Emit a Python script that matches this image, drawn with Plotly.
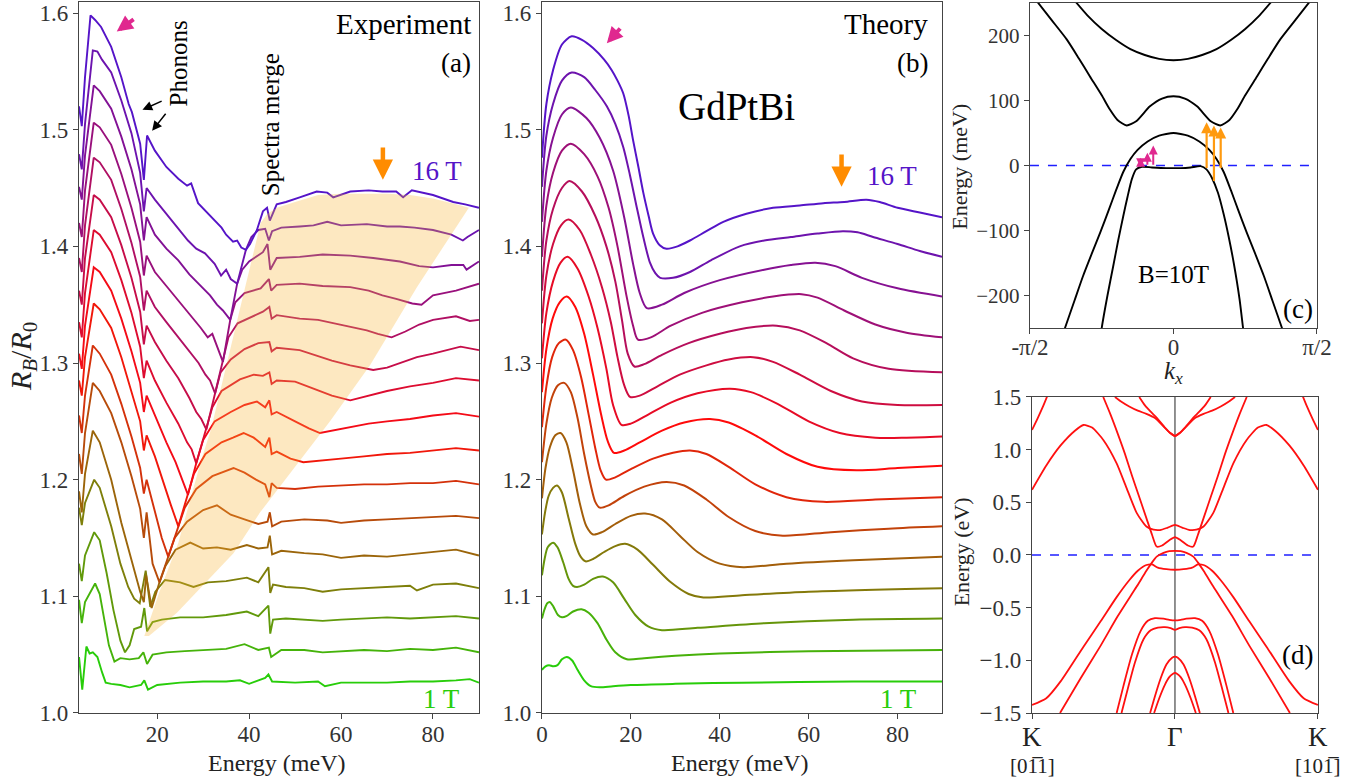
import plotly.graph_objects as go

FONT = "Liberation Serif, Times New Roman, serif"

# ---------------- Panel (a): experiment, R_B/R_0 vs energy (meV) ----------------
exp_16T_x = [3.0, 3.6, 4.3, 5.5, 6.5, 7.8, 10.0, 12.2, 13.8, 14.5, 16.3, 17.1, 17.8, 19.5, 22.0, 24.6, 26.5, 27.4, 28.9, 31.7, 34.0, 35.0, 36.5, 37.4, 38.3, 39.3, 40.2, 41.7, 43.0, 43.9, 44.5, 46.0, 48.0, 51.0, 54.7, 57.0, 58.3, 62.0, 66.0, 69.0, 72.0, 73.5, 75.4, 80.0, 84.4, 87.0, 90.0]
exp_16T_y = [1.520, 1.503, 1.545, 1.598, 1.594, 1.588, 1.571, 1.545, 1.522, 1.515, 1.488, 1.457, 1.495, 1.482, 1.468, 1.458, 1.452, 1.454, 1.437, 1.425, 1.416, 1.410, 1.404, 1.405, 1.399, 1.397, 1.402, 1.414, 1.430, 1.433, 1.422, 1.436, 1.438, 1.442, 1.447, 1.446, 1.442, 1.447, 1.448, 1.447, 1.447, 1.442, 1.448, 1.444, 1.438, 1.436, 1.433]
exp_15T_x = [3.0, 3.6, 4.3, 6.0, 7.0, 8.0, 10.0, 12.2, 14.4, 16.3, 17.1, 17.7, 19.5, 22.0, 24.6, 26.7, 28.5, 30.4, 32.5, 33.9, 35.0, 36.0, 37.4, 39.3, 40.5, 42.0, 43.5, 44.3, 45.0, 47.0, 51.0, 54.0, 57.0, 60.0, 65.6, 70.0, 72.8, 76.0, 80.0, 84.0, 86.5, 87.5, 90.0]
exp_15T_y = [1.479, 1.466, 1.505, 1.568, 1.567, 1.560, 1.549, 1.525, 1.497, 1.463, 1.430, 1.450, 1.440, 1.428, 1.416, 1.405, 1.398, 1.394, 1.385, 1.375, 1.380, 1.372, 1.368, 1.397, 1.408, 1.414, 1.415, 1.405, 1.413, 1.416, 1.417, 1.418, 1.421, 1.418, 1.419, 1.417, 1.417, 1.416, 1.414, 1.410, 1.405, 1.408, 1.414]
exp_14T_x = [3.0, 3.6, 4.3, 6.2, 7.5, 10.0, 12.2, 14.4, 16.3, 17.1, 17.7, 19.5, 22.0, 24.6, 27.0, 29.5, 31.5, 33.0, 34.3, 35.9, 37.4, 38.5, 40.0, 43.0, 44.0, 44.6, 46.0, 51.0, 56.0, 62.0, 67.0, 72.8, 77.0, 80.0, 84.0, 86.6, 87.3, 90.0]
exp_14T_y = [1.451, 1.440, 1.478, 1.538, 1.533, 1.518, 1.494, 1.466, 1.436, 1.405, 1.425, 1.410, 1.398, 1.388, 1.376, 1.366, 1.358, 1.350, 1.345, 1.337, 1.368, 1.380, 1.387, 1.395, 1.402, 1.380, 1.390, 1.391, 1.393, 1.392, 1.390, 1.387, 1.383, 1.382, 1.384, 1.384, 1.380, 1.387]
exp_13T_x = [3.0, 3.6, 4.3, 6.2, 7.5, 10.0, 12.2, 14.4, 16.3, 17.1, 17.7, 19.5, 22.0, 24.6, 27.0, 29.5, 31.0, 32.0, 33.2, 34.3, 35.9, 37.0, 39.0, 42.5, 44.3, 44.8, 46.0, 51.0, 56.0, 62.0, 66.0, 69.0, 72.0, 75.5, 77.5, 80.0, 85.0, 90.0]
exp_13T_y = [1.420, 1.408, 1.448, 1.506, 1.502, 1.487, 1.462, 1.433, 1.404, 1.375, 1.392, 1.378, 1.366, 1.354, 1.342, 1.330, 1.322, 1.325, 1.312, 1.301, 1.337, 1.352, 1.360, 1.364, 1.372, 1.362, 1.367, 1.368, 1.366, 1.365, 1.362, 1.358, 1.355, 1.351, 1.350, 1.358, 1.362, 1.368]
exp_12T_x = [3.0, 3.6, 4.3, 6.2, 7.5, 10.0, 12.2, 14.4, 16.3, 17.1, 17.7, 19.5, 22.0, 24.6, 27.0, 29.0, 30.5, 31.5, 32.6, 34.3, 35.5, 37.5, 41.0, 43.0, 44.4, 44.9, 46.0, 51.0, 55.0, 58.3, 62.0, 65.6, 68.0, 71.0, 74.0, 77.0, 80.0, 85.0, 88.0, 90.0]
exp_12T_y = [1.390, 1.378, 1.418, 1.476, 1.472, 1.457, 1.432, 1.403, 1.374, 1.345, 1.362, 1.348, 1.335, 1.322, 1.310, 1.300, 1.290, 1.285, 1.274, 1.301, 1.322, 1.334, 1.340, 1.344, 1.348, 1.338, 1.341, 1.338, 1.337, 1.334, 1.331, 1.328, 1.325, 1.322, 1.327, 1.333, 1.337, 1.340, 1.336, 1.337]
exp_11T_x = [3.0, 3.6, 4.3, 6.2, 7.5, 10.0, 12.2, 14.4, 16.3, 17.1, 17.7, 19.5, 22.0, 24.6, 27.0, 28.5, 29.6, 30.7, 32.6, 33.8, 36.0, 39.0, 42.0, 44.4, 44.9, 46.0, 51.0, 55.0, 58.0, 62.0, 67.0, 70.0, 73.0, 76.5, 80.0, 84.0, 86.0, 90.0]
exp_11T_y = [1.362, 1.350, 1.390, 1.444, 1.440, 1.425, 1.401, 1.373, 1.344, 1.316, 1.332, 1.318, 1.302, 1.287, 1.270, 1.258, 1.252, 1.243, 1.274, 1.292, 1.303, 1.312, 1.317, 1.318, 1.310, 1.313, 1.311, 1.306, 1.302, 1.298, 1.294, 1.296, 1.300, 1.305, 1.308, 1.312, 1.314, 1.311]
exp_10T_x = [3.0, 3.6, 4.3, 6.2, 7.5, 10.0, 12.2, 14.4, 16.3, 17.1, 17.7, 19.5, 22.0, 24.6, 26.5, 27.5, 28.5, 30.7, 32.0, 34.0, 38.0, 41.0, 43.0, 44.4, 44.9, 46.0, 50.0, 54.0, 58.0, 62.0, 66.0, 70.0, 75.0, 80.0, 85.0, 90.0]
exp_10T_y = [1.335, 1.322, 1.360, 1.414, 1.410, 1.395, 1.371, 1.343, 1.314, 1.287, 1.302, 1.285, 1.266, 1.248, 1.232, 1.226, 1.214, 1.243, 1.262, 1.276, 1.286, 1.290, 1.289, 1.292, 1.282, 1.285, 1.284, 1.278, 1.272, 1.268, 1.272, 1.276, 1.280, 1.283, 1.287, 1.285]
exp_9T_x = [3.0, 3.6, 4.3, 6.2, 7.5, 10.0, 12.2, 14.4, 16.3, 17.1, 17.7, 19.5, 22.0, 24.0, 25.5, 26.7, 28.5, 30.0, 32.5, 36.0, 39.0, 41.7, 43.5, 44.4, 44.9, 46.0, 50.0, 53.0, 55.4, 58.0, 62.0, 66.0, 70.0, 75.0, 80.0, 85.0, 90.0]
exp_9T_y = [1.308, 1.295, 1.332, 1.382, 1.378, 1.362, 1.338, 1.310, 1.283, 1.258, 1.272, 1.255, 1.232, 1.215, 1.200, 1.187, 1.214, 1.234, 1.250, 1.258, 1.264, 1.267, 1.262, 1.268, 1.256, 1.258, 1.250, 1.244, 1.240, 1.242, 1.245, 1.248, 1.250, 1.252, 1.255, 1.257, 1.254]
exp_8T_x = [3.0, 3.6, 4.3, 6.2, 7.5, 10.0, 12.2, 14.4, 16.3, 17.1, 17.7, 19.5, 21.5, 23.0, 24.6, 26.7, 28.0, 30.5, 34.0, 36.5, 38.8, 41.0, 43.5, 44.4, 44.9, 46.0, 49.0, 51.8, 55.0, 60.0, 65.0, 70.0, 75.0, 80.0, 85.0, 90.0]
exp_8T_y = [1.285, 1.272, 1.305, 1.351, 1.346, 1.330, 1.305, 1.276, 1.250, 1.225, 1.238, 1.220, 1.195, 1.178, 1.160, 1.187, 1.205, 1.222, 1.232, 1.236, 1.240, 1.236, 1.228, 1.236, 1.222, 1.224, 1.218, 1.215, 1.216, 1.218, 1.220, 1.222, 1.223, 1.225, 1.227, 1.225]
exp_7T_x = [3.0, 3.6, 4.3, 6.0, 7.5, 10.0, 12.2, 14.4, 16.3, 17.1, 17.7, 19.5, 21.0, 22.4, 24.6, 26.0, 28.5, 32.0, 36.6, 39.0, 41.5, 43.5, 44.4, 44.9, 46.0, 50.0, 55.0, 60.0, 65.0, 70.0, 75.0, 80.0, 85.0, 90.0]
exp_7T_y = [1.255, 1.240, 1.272, 1.315, 1.308, 1.290, 1.265, 1.237, 1.210, 1.188, 1.200, 1.172, 1.150, 1.134, 1.160, 1.176, 1.192, 1.203, 1.210, 1.206, 1.200, 1.196, 1.185, 1.197, 1.193, 1.192, 1.194, 1.195, 1.196, 1.196, 1.197, 1.197, 1.199, 1.196]
exp_6T_x = [3.0, 3.6, 4.3, 6.0, 7.5, 10.0, 12.2, 14.4, 16.3, 17.1, 17.7, 19.0, 20.5, 22.4, 23.8, 26.5, 30.0, 33.0, 36.0, 39.0, 42.0, 44.0, 44.5, 45.0, 47.0, 52.0, 57.0, 60.0, 65.0, 70.0, 75.0, 80.0, 85.0, 90.0]
exp_6T_y = [1.222, 1.205, 1.240, 1.283, 1.276, 1.257, 1.232, 1.203, 1.175, 1.150, 1.172, 1.128, 1.112, 1.134, 1.150, 1.164, 1.174, 1.178, 1.170, 1.166, 1.162, 1.164, 1.172, 1.160, 1.164, 1.166, 1.165, 1.163, 1.165, 1.166, 1.167, 1.168, 1.169, 1.167]
exp_5T_x = [3.0, 3.6, 4.3, 6.0, 7.5, 10.0, 12.2, 14.3, 16.3, 17.1, 17.6, 18.8, 20.5, 21.8, 24.0, 27.2, 30.0, 33.0, 36.0, 39.5, 42.0, 44.0, 44.5, 45.0, 47.0, 52.0, 56.0, 60.0, 65.0, 70.0, 75.0, 80.0, 85.0, 90.0]
exp_5T_y = [1.190, 1.172, 1.205, 1.242, 1.232, 1.200, 1.163, 1.132, 1.104, 1.095, 1.118, 1.090, 1.112, 1.126, 1.140, 1.146, 1.141, 1.142, 1.140, 1.144, 1.141, 1.142, 1.152, 1.136, 1.139, 1.137, 1.136, 1.133, 1.135, 1.134, 1.136, 1.138, 1.140, 1.135]
exp_4T_x = [3.0, 3.6, 4.3, 6.3, 7.5, 10.0, 12.0, 13.7, 15.0, 16.2, 17.5, 18.5, 19.6, 21.7, 25.0, 27.9, 31.0, 35.0, 39.5, 42.0, 44.2, 44.6, 45.2, 48.0, 52.0, 56.0, 60.0, 65.0, 70.0, 75.0, 76.5, 80.0, 85.0, 90.0]
exp_4T_y = [1.176, 1.161, 1.180, 1.200, 1.193, 1.160, 1.128, 1.108, 1.098, 1.094, 1.122, 1.091, 1.104, 1.114, 1.112, 1.108, 1.112, 1.113, 1.116, 1.112, 1.125, 1.103, 1.110, 1.108, 1.107, 1.104, 1.106, 1.107, 1.108, 1.109, 1.105, 1.110, 1.111, 1.107]
exp_3T_x = [3.0, 3.6, 4.3, 6.3, 7.5, 9.0, 10.5, 12.0, 13.0, 14.0, 15.0, 16.5, 17.2, 17.8, 19.0, 21.0, 25.0, 30.0, 35.0, 39.5, 42.0, 44.2, 44.6, 45.2, 48.0, 52.0, 56.0, 60.0, 65.0, 70.0, 75.0, 80.0, 85.0, 90.0]
exp_3T_y = [1.128, 1.113, 1.135, 1.155, 1.148, 1.120, 1.088, 1.062, 1.052, 1.058, 1.072, 1.074, 1.090, 1.070, 1.078, 1.080, 1.082, 1.082, 1.084, 1.087, 1.083, 1.092, 1.068, 1.080, 1.081, 1.080, 1.079, 1.080, 1.081, 1.082, 1.081, 1.082, 1.083, 1.081]
exp_2T_x = [3.0, 3.6, 4.3, 6.5, 7.5, 8.5, 9.5, 10.7, 12.0, 14.0, 16.0, 17.0, 17.8, 19.0, 22.0, 26.0, 30.0, 35.0, 39.0, 42.0, 44.3, 44.8, 47.0, 52.0, 56.0, 60.0, 65.0, 70.0, 75.0, 80.0, 85.0, 90.0]
exp_2T_y = [1.097, 1.077, 1.095, 1.111, 1.102, 1.080, 1.058, 1.044, 1.047, 1.046, 1.047, 1.052, 1.042, 1.050, 1.052, 1.053, 1.054, 1.055, 1.059, 1.054, 1.056, 1.048, 1.054, 1.054, 1.052, 1.053, 1.054, 1.053, 1.055, 1.054, 1.056, 1.052]
exp_1T_x = [3.0, 3.7, 4.6, 5.3, 6.0, 7.0, 8.0, 8.8, 10.0, 12.0, 14.0, 16.5, 17.2, 18.0, 20.0, 25.0, 30.0, 35.0, 38.0, 40.0, 43.5, 44.2, 45.0, 50.0, 55.0, 56.5, 60.0, 65.0, 70.0, 75.0, 80.0, 85.0, 88.0, 90.0]
exp_1T_y = [1.048, 1.020, 1.057, 1.051, 1.052, 1.048, 1.035, 1.026, 1.025, 1.024, 1.022, 1.024, 1.028, 1.020, 1.024, 1.026, 1.027, 1.027, 1.028, 1.025, 1.030, 1.033, 1.027, 1.026, 1.027, 1.023, 1.026, 1.026, 1.026, 1.027, 1.027, 1.028, 1.029, 1.026]

# shaded "spectra merge" region in (a)
shade_x = [17.2, 20.5, 24.6, 29.6, 31.7, 36.0, 41.3, 42.5, 44.0, 46.0, 50.0, 55.0, 60.0, 65.0, 70.0, 75.0, 80.0, 85.0, 87.8, 76.5, 66.3, 57.6, 46.0, 42.4, 36.6, 24.3, 18.2]
shade_y = [1.066, 1.104, 1.146, 1.217, 1.243, 1.313, 1.399, 1.420, 1.428, 1.433, 1.438, 1.444, 1.445, 1.445, 1.445, 1.444, 1.441, 1.436, 1.433, 1.365, 1.298, 1.250, 1.191, 1.172, 1.137, 1.086, 1.066]

# ---------------- Panel (b): theory (15 curves, bottom = 1 T, top = 16 T) ----------------
th_01_x = [0.0, 0.8, 1.6, 2.6, 3.5, 4.5, 5.6, 6.8, 8.0, 9.5, 11.0, 13.0, 16.0, 20.0, 30.0, 45.0, 70.0, 90.0]
th_01_y = [1.037, 1.040, 1.041, 1.040, 1.041, 1.046, 1.048, 1.045, 1.037, 1.028, 1.023, 1.022, 1.023, 1.024, 1.025, 1.026, 1.027, 1.027]
th_02_x = [0.0, 0.6, 1.2, 1.8, 2.6, 3.6, 4.5, 5.5, 7.0, 8.9, 10.5, 12.5, 14.5, 16.5, 19.1, 23.0, 30.0, 40.0, 60.0, 90.0]
th_02_y = [1.081, 1.089, 1.094, 1.095, 1.091, 1.084, 1.082, 1.083, 1.087, 1.089, 1.086, 1.077, 1.063, 1.052, 1.046, 1.047, 1.049, 1.051, 1.053, 1.054]
th_03_x = [0.0, 0.6, 1.3, 2.5, 3.5, 4.8, 6.0, 7.0, 7.9, 9.5, 11.5, 13.7, 16.0, 18.5, 21.0, 24.0, 27.0, 35.0, 50.0, 70.0, 90.0]
th_03_y = [1.118, 1.132, 1.142, 1.146, 1.142, 1.129, 1.115, 1.109, 1.108, 1.110, 1.115, 1.117, 1.112, 1.098, 1.084, 1.074, 1.071, 1.073, 1.077, 1.080, 1.081]
th_04_x = [0.0, 0.7, 1.5, 2.5, 3.4, 4.5, 6.0, 7.5, 8.7, 9.8, 11.5, 14.0, 16.5, 18.7, 21.5, 25.0, 29.0, 33.0, 36.3, 45.0, 60.0, 90.0]
th_04_y = [1.153, 1.172, 1.186, 1.193, 1.195, 1.189, 1.167, 1.145, 1.134, 1.130, 1.132, 1.138, 1.143, 1.145, 1.140, 1.127, 1.112, 1.102, 1.099, 1.101, 1.104, 1.107]
th_05_x = [0.0, 0.8, 1.8, 3.0, 4.2, 5.5, 7.0, 8.5, 10.0, 11.5, 13.5, 16.5, 20.0, 23.2, 27.0, 31.0, 35.0, 40.0, 45.3, 55.0, 70.0, 90.0]
th_05_y = [1.184, 1.210, 1.228, 1.238, 1.240, 1.232, 1.208, 1.180, 1.160, 1.153, 1.155, 1.162, 1.169, 1.171, 1.166, 1.152, 1.138, 1.128, 1.125, 1.128, 1.131, 1.134]
th_06_x = [0.0, 1.0, 2.2, 3.6, 5.0, 6.5, 8.0, 9.5, 11.0, 12.0, 13.0, 15.0, 18.5, 23.0, 28.0, 32.0, 37.0, 42.0, 48.0, 54.2, 65.0, 78.0, 90.0]
th_06_y = [1.215, 1.248, 1.270, 1.281, 1.283, 1.275, 1.253, 1.222, 1.195, 1.181, 1.176, 1.178, 1.186, 1.194, 1.198, 1.195, 1.183, 1.168, 1.156, 1.152, 1.155, 1.158, 1.160]
th_07_x = [0.0, 1.0, 2.3, 3.8, 5.4, 7.0, 8.8, 10.5, 12.0, 13.2, 14.4, 16.5, 20.0, 25.0, 29.5, 33.3, 37.0, 42.0, 48.0, 55.0, 63.3, 75.0, 90.0]
th_07_y = [1.245, 1.280, 1.305, 1.317, 1.320, 1.311, 1.288, 1.256, 1.227, 1.208, 1.200, 1.202, 1.209, 1.218, 1.223, 1.225, 1.222, 1.211, 1.196, 1.185, 1.181, 1.183, 1.185]
th_08_x = [0.0, 1.0, 2.4, 4.0, 5.6, 7.5, 9.5, 11.5, 13.3, 14.8, 16.2, 18.5, 22.0, 27.0, 32.0, 37.8, 42.0, 48.0, 55.0, 62.0, 70.8, 80.0, 90.0]
th_08_y = [1.275, 1.312, 1.338, 1.352, 1.357, 1.348, 1.325, 1.290, 1.256, 1.233, 1.223, 1.225, 1.232, 1.242, 1.249, 1.252, 1.249, 1.238, 1.222, 1.211, 1.208, 1.210, 1.212]
th_09_x = [0.0, 1.0, 2.5, 4.2, 5.8, 8.0, 10.5, 12.5, 14.5, 16.0, 17.9, 20.0, 24.0, 29.0, 35.0, 42.3, 47.0, 53.0, 60.0, 67.0, 75.0, 82.0, 90.0]
th_09_y = [1.304, 1.343, 1.370, 1.386, 1.391, 1.381, 1.357, 1.330, 1.295, 1.264, 1.247, 1.248, 1.256, 1.266, 1.274, 1.278, 1.275, 1.265, 1.250, 1.240, 1.236, 1.236, 1.237]
th_10_x = [0.0, 1.0, 2.5, 4.3, 6.0, 8.5, 11.0, 13.5, 15.5, 17.0, 18.5, 19.8, 22.0, 26.0, 31.0, 37.0, 42.0, 47.5, 52.0, 58.0, 65.0, 72.0, 80.0, 90.0]
th_10_y = [1.334, 1.375, 1.402, 1.418, 1.423, 1.414, 1.393, 1.365, 1.335, 1.305, 1.281, 1.271, 1.272, 1.280, 1.290, 1.298, 1.303, 1.305, 1.301, 1.290, 1.276, 1.267, 1.264, 1.264]
th_11_x = [0.0, 1.0, 2.5, 4.5, 6.2, 9.0, 12.0, 14.5, 16.5, 18.0, 19.3, 20.8, 23.0, 27.0, 33.0, 40.0, 46.0, 52.8, 58.0, 64.0, 70.0, 78.0, 90.0]
th_11_y = [1.362, 1.405, 1.432, 1.450, 1.456, 1.447, 1.426, 1.400, 1.370, 1.337, 1.308, 1.297, 1.299, 1.307, 1.317, 1.325, 1.330, 1.332, 1.328, 1.317, 1.304, 1.295, 1.292]
th_12_x = [0.0, 1.0, 2.5, 4.5, 6.5, 9.5, 12.5, 15.0, 17.0, 19.0, 20.5, 21.6, 24.5, 29.0, 36.0, 45.0, 52.0, 58.4, 62.0, 68.0, 75.0, 82.0, 90.0]
th_12_y = [1.391, 1.435, 1.463, 1.482, 1.488, 1.479, 1.460, 1.433, 1.400, 1.358, 1.332, 1.320, 1.322, 1.332, 1.343, 1.352, 1.357, 1.359, 1.356, 1.345, 1.333, 1.326, 1.322]
th_13_x = [0.0, 1.0, 2.5, 4.5, 6.5, 10.0, 13.0, 16.0, 18.5, 20.5, 22.0, 23.6, 27.0, 32.0, 40.0, 50.0, 56.0, 61.5, 66.0, 72.0, 80.0, 90.0]
th_13_y = [1.421, 1.465, 1.493, 1.513, 1.519, 1.510, 1.493, 1.465, 1.425, 1.385, 1.360, 1.347, 1.350, 1.360, 1.371, 1.380, 1.384, 1.386, 1.383, 1.373, 1.364, 1.357]
th_14_x = [0.0, 1.0, 2.5, 4.5, 6.7, 9.5, 12.0, 14.6, 16.5, 18.3, 19.8, 21.3, 22.8, 24.3, 25.5, 26.6, 29.5, 33.3, 38.0, 44.5, 50.0, 56.0, 62.0, 67.7, 71.0, 74.5, 80.0, 85.0, 90.0]
th_14_y = [1.451, 1.495, 1.522, 1.542, 1.549, 1.545, 1.534, 1.520, 1.505, 1.485, 1.461, 1.434, 1.408, 1.386, 1.377, 1.373, 1.373, 1.378, 1.388, 1.400, 1.405, 1.408, 1.411, 1.413, 1.412, 1.408, 1.402, 1.396, 1.391]
th_15_x = [0.0, 1.0, 2.5, 4.5, 6.7, 9.0, 11.5, 14.0, 15.7, 17.0, 18.3, 19.5, 20.5, 21.7, 22.8, 24.0, 25.0, 26.5, 28.0, 30.5, 33.3, 37.0, 40.8, 46.0, 52.0, 58.0, 63.3, 68.0, 73.0, 76.0, 80.0, 85.0, 90.0]
th_15_y = [1.476, 1.522, 1.551, 1.573, 1.580, 1.577, 1.570, 1.560, 1.551, 1.542, 1.531, 1.512, 1.491, 1.468, 1.446, 1.426, 1.411, 1.401, 1.398, 1.400, 1.405, 1.413, 1.421, 1.428, 1.433, 1.435, 1.437, 1.438, 1.440, 1.438, 1.433, 1.429, 1.425]

# ---------------- Panel (c): bands at B = 10 T, k in units of pi/2, E in meV ----------------
bc_cond2_k = [-0.72, -0.675, -0.6, -0.5, -0.4, -0.3, -0.2, -0.1, 0.0, 0.1, 0.2, 0.3, 0.4, 0.5, 0.6, 0.675, 0.72]
bc_cond2_E = [262, 250, 231, 210, 193, 179, 170, 164, 162, 164, 170, 179, 193, 210, 231, 250, 262]
bc_cond1_k = [-0.96, -0.85, -0.744, -0.66, -0.582, -0.5, -0.443, -0.39, -0.326, -0.26, -0.164, -0.08, 0.0, 0.08, 0.164, 0.26, 0.326, 0.39, 0.443, 0.5, 0.582, 0.66, 0.744, 0.85, 0.96]
bc_cond1_E = [255, 224, 194, 165, 137, 108, 86, 70, 61.5, 68, 91, 103, 106.5, 103, 91, 68, 61.5, 70, 86, 108, 137, 165, 194, 224, 255]
bc_val1_k = [-0.78, -0.756, -0.69, -0.63, -0.57, -0.51, -0.45, -0.40, -0.35, -0.30, -0.25, -0.18, -0.1, 0.0, 0.1, 0.18, 0.25, 0.30, 0.35, 0.40, 0.45, 0.51, 0.57, 0.63, 0.69, 0.756, 0.78]
bc_val1_E = [-265, -250, -208, -170, -136, -103, -68, -38, -10, 10, 24, 37, 46, 50, 46, 37, 24, 10, -10, -38, -68, -103, -136, -170, -208, -250, -265]
bc_val2_k = [-0.52, -0.5, -0.46, -0.42, -0.385, -0.35, -0.32, -0.29, -0.26, -0.22, -0.15, -0.05, 0.05, 0.12, 0.19, 0.23, 0.27, 0.31, 0.35, 0.385, 0.42, 0.46, 0.485, 0.50]
bc_val2_E = [-285, -250, -200, -155, -115, -78, -48, -21, -6, -2, -3, -4, -4, -3, -1, -6, -20, -42, -75, -110, -150, -205, -250, -275]
# optical transitions (k, E_from, E_to)
pink_k = [-0.229, -0.182, -0.141]
pink_from = [-5, -1, -1]
pink_to = [12, 19.5, 30.7]
orange_k = [0.231, 0.282, 0.329]
orange_from = [-6, -26, -6]
orange_to = [66.7, 61.5, 58.5]

# ---------------- Panel (d): DFT bands K-Gamma-K (left half, mirrored about Gamma) ----------------
bd_A1_x = [0.0, 0.02, 0.04, 0.055]
bd_A1_E = [1.187, 1.30, 1.42, 1.52]
bd_A2_x = [0.0, 0.05, 0.1, 0.15, 0.18, 0.21, 0.25, 0.296, 0.33, 0.366, 0.40, 0.425, 0.448, 0.475, 0.5]
bd_A2_E = [0.62, 0.85, 1.04, 1.18, 1.234, 1.21, 1.09, 0.87, 0.64, 0.40, 0.27, 0.24, 0.237, 0.26, 0.285]
bd_B_x = [0.249, 0.275, 0.30, 0.325, 0.35, 0.375, 0.40, 0.42, 0.436, 0.455, 0.48, 0.5]
bd_B_E = [1.5, 1.33, 1.15, 0.96, 0.75, 0.55, 0.35, 0.19, 0.08, 0.09, 0.14, 0.17]
bd_C1_x = [0.29, 0.31, 0.34, 0.37, 0.40, 0.43, 0.46, 0.48, 0.5]
bd_C1_E = [1.5, 1.46, 1.41, 1.37, 1.34, 1.30, 1.22, 1.165, 1.13]
bd_C2_x = [0.375, 0.395, 0.415, 0.44, 0.465, 0.485, 0.5]
bd_C2_E = [1.5, 1.42, 1.36, 1.29, 1.21, 1.155, 1.13]
bd_D1_x = [0.098, 0.17, 0.238, 0.30, 0.366, 0.40, 0.42, 0.436, 0.46, 0.48, 0.5]
bd_D1_E = [-1.5, -1.17, -0.87, -0.58, -0.30, -0.15, -0.07, -0.016, 0.02, 0.036, 0.04]
bd_D2_x = [0.0, 0.05, 0.1, 0.18, 0.24, 0.296, 0.34, 0.37, 0.40, 0.42, 0.44, 0.47, 0.5]
bd_D2_E = [-1.424, -1.36, -1.20, -0.87, -0.63, -0.40, -0.24, -0.15, -0.095, -0.09, -0.12, -0.135, -0.14]
bd_E1_x = [0.296, 0.32, 0.35, 0.38, 0.405, 0.43, 0.46, 0.48, 0.5]
bd_E1_E = [-1.5, -1.24, -0.94, -0.72, -0.625, -0.60, -0.605, -0.615, -0.62]
bd_E2_x = [0.313, 0.335, 0.36, 0.39, 0.415, 0.44, 0.465, 0.485, 0.5]
bd_E2_E = [-1.5, -1.27, -1.02, -0.80, -0.715, -0.69, -0.685, -0.695, -0.71]
bd_F1_x = [0.413, 0.43, 0.45, 0.47, 0.49, 0.5]
bd_F1_E = [-1.5, -1.34, -1.17, -1.04, -0.975, -0.965]
bd_F2_x = [0.427, 0.445, 0.465, 0.48, 0.492, 0.5]
bd_F2_E = [-1.5, -1.36, -1.23, -1.16, -1.13, -1.12]
bd_tick_pos = [0.0, 0.5, 1.0]
bd_tick_sym = ["K", "Γ", "K"]
bd_tick_dir = ["[01\u03051]", "", "[101\u0305]"]

# ---------------- styling helpers ----------------
C_GREEN = (40, 205, 10)
C_RED = (255, 10, 10)
C_BLUE = (85, 20, 200)


def mix(c1, c2, s):
    return tuple(int(round(a + (b - a) * s)) for a, b in zip(c1, c2))


def field_color(t):
    if t <= 0.5:
        c = mix(C_GREEN, C_RED, t / 0.5)
    else:
        c = mix(C_RED, C_BLUE, (t - 0.5) / 0.5)
    return "rgb(%d,%d,%d)" % c


def hexc(c):
    return "rgb(%d,%d,%d)" % c


exp_curves = [
    (exp_1T_x, exp_1T_y), (exp_2T_x, exp_2T_y), (exp_3T_x, exp_3T_y), (exp_4T_x, exp_4T_y),
    (exp_5T_x, exp_5T_y), (exp_6T_x, exp_6T_y), (exp_7T_x, exp_7T_y), (exp_8T_x, exp_8T_y),
    (exp_9T_x, exp_9T_y), (exp_10T_x, exp_10T_y), (exp_11T_x, exp_11T_y), (exp_12T_x, exp_12T_y),
    (exp_13T_x, exp_13T_y), (exp_14T_x, exp_14T_y), (exp_15T_x, exp_15T_y), (exp_16T_x, exp_16T_y),
]
th_curves = [
    (th_01_x, th_01_y), (th_02_x, th_02_y), (th_03_x, th_03_y), (th_04_x, th_04_y), (th_05_x, th_05_y),
    (th_06_x, th_06_y), (th_07_x, th_07_y), (th_08_x, th_08_y), (th_09_x, th_09_y), (th_10_x, th_10_y),
    (th_11_x, th_11_y), (th_12_x, th_12_y), (th_13_x, th_13_y), (th_14_x, th_14_y), (th_15_x, th_15_y),
]
for xs, ys in exp_curves + th_curves:
    assert len(xs) == len(ys), (len(xs), len(ys), xs[:3])

fig = go.Figure()

# (a) experiment
n = len(exp_curves)
for i, (xs, ys) in enumerate(exp_curves):
    fig.add_trace(go.Scatter(x=xs, y=ys, mode="lines", xaxis="x", yaxis="y",
                             line=dict(color=field_color(i / (n - 1)), width=1.9),
                             hoverinfo="skip", showlegend=False))
fig.add_trace(go.Scatter(x=shade_x, y=shade_y, mode="lines", fill="toself",
                         fillcolor="rgba(250,180,50,0.30)", line=dict(width=0),
                         xaxis="x", yaxis="y", hoverinfo="skip", showlegend=False))

# (b) theory
n = len(th_curves)
for i, (xs, ys) in enumerate(th_curves):
    fig.add_trace(go.Scatter(x=xs, y=ys, mode="lines", xaxis="x2", yaxis="y2",
                             line=dict(color=field_color(i / (n - 1)), width=2.0, shape="spline", smoothing=0.8),
                             hoverinfo="skip", showlegend=False))

# (c) low-energy bands
fig.add_trace(go.Scatter(x=[-1, 1], y=[0, 0], mode="lines", xaxis="x3", yaxis="y3",
                         line=dict(color="#1f1fff", width=1.6, dash="dash"), hoverinfo="skip", showlegend=False))
for ks, es in [(bc_cond2_k, bc_cond2_E), (bc_cond1_k, bc_cond1_E), (bc_val1_k, bc_val1_E), (bc_val2_k, bc_val2_E)]:
    fig.add_trace(go.Scatter(x=ks, y=es, mode="lines", xaxis="x3", yaxis="y3",
                             line=dict(color="black", width=1.9, shape="spline", smoothing=0.6),
                             hoverinfo="skip", showlegend=False))

# (d) DFT bands
fig.add_trace(go.Scatter(x=[0.5, 0.5], y=[-1.5, 1.5], mode="lines", xaxis="x4", yaxis="y4",
                         line=dict(color="#222", width=1.0), hoverinfo="skip", showlegend=False))
fig.add_trace(go.Scatter(x=[0, 1], y=[0, 0], mode="lines", xaxis="x4", yaxis="y4",
                         line=dict(color="#1f1fff", width=1.6, dash="dash"), hoverinfo="skip", showlegend=False))
for xs, es in [(bd_A1_x, bd_A1_E), (bd_A2_x, bd_A2_E), (bd_B_x, bd_B_E), (bd_C1_x, bd_C1_E),
               (bd_C2_x, bd_C2_E), (bd_D1_x, bd_D1_E), (bd_D2_x, bd_D2_E), (bd_E1_x, bd_E1_E),
               (bd_E2_x, bd_E2_E), (bd_F1_x, bd_F1_E), (bd_F2_x, bd_F2_E)]:
    if xs[-1] != 0.5:  # branches that do not reach Gamma: draw left one and its mirror image
        for bx in (xs, [1 - v for v in xs]):
            fig.add_trace(go.Scatter(x=bx, y=es, mode="lines", xaxis="x4", yaxis="y4",
                                     line=dict(color="#ff1010", width=1.8, shape="spline", smoothing=0.6),
                                     hoverinfo="skip", showlegend=False))
    else:  # mirror about Gamma (x = 0.5)
        full_x = list(xs) + [1 - v for v in reversed(xs[:-1])]
        full_e = list(es) + list(reversed(es[:-1]))
        fig.add_trace(go.Scatter(x=full_x, y=full_e, mode="lines", xaxis="x4", yaxis="y4",
                                 line=dict(color="#ff1010", width=1.8, shape="spline", smoothing=0.6),
                                 hoverinfo="skip", showlegend=False))


def axis(domain, rng, anchor, tickvals, ticktext=None, size=23, tickformat=None, standoff=None, labels=True):
    d = dict(domain=domain, range=rng, anchor=anchor, showline=True, linecolor="#444", linewidth=1.3,
             mirror=True, ticks="outside", ticklen=5, tickwidth=1.2, tickcolor="#444",
             showgrid=False, zeroline=False, tickvals=tickvals, automargin=False,
             showticklabels=labels,
             tickfont=dict(family=FONT, size=size, color="#333"))
    if ticktext is not None:
        d["ticktext"] = ticktext
    if tickformat is not None:
        d["tickformat"] = tickformat
    if standoff is not None:
        d["ticklabelstandoff"] = standoff
    return d


ya_dom = [0.0894, 0.9974]
rv_ticks = [1.0, 1.1, 1.2, 1.3, 1.4, 1.5, 1.6]
layout = dict(
    width=1372, height=783, paper_bgcolor="white", plot_bgcolor="white",
    margin=dict(l=0, r=0, t=0, b=0, pad=0, autoexpand=False), showlegend=False,
    font=dict(family=FONT, color="#222"),
    xaxis=axis([0.0576, 0.3491], [3, 90], "y", [20, 40, 60, 80], standoff=-5),
    yaxis=axis(ya_dom, [1.0, 1.6094], "x", rv_ticks, tickformat=".1f"),
    xaxis2=axis([0.3950, 0.6866], [0, 90], "y2", [0, 20, 40, 60, 80], standoff=-5),
    yaxis2=axis(ya_dom, [1.0, 1.6094], "x2", rv_ticks, tickformat=".1f"),
    xaxis3=axis([0.7507, 0.9599], [-1, 1], "y3", [-1, 0, 1], ["-π/2", "0", "π/2"], size=23, standoff=-7),
    yaxis3=axis([0.5811, 0.9962], [-250, 250], "x3", [-200, -100, 0, 100, 200], size=21),
    xaxis4=axis([0.7522, 0.9606], [0, 1], "y4", bd_tick_pos, labels=False),
    yaxis4=axis([0.0894, 0.4930], [-1.5, 1.5], "x4", [-1.5, -1.0, -0.5, 0.0, 0.5, 1.0, 1.5],
                ["−1.5", "−1.0", "−0.5", "0.0", "0.5", "1.0", "1.5"], size=23),
)
fig.update_layout(**layout)

ann = []


def txt(x, y, text, xref, yref, size, color="black", xanchor="center", yanchor="middle", angle=0):
    ann.append(dict(x=x, y=y, text=text, xref=xref, yref=yref, showarrow=False,
                    font=dict(family=FONT, size=size, color=color),
                    xanchor=xanchor, yanchor=yanchor, textangle=angle))


def arrow(x0, y0, x1, y1, xr, yr, color, width, size=1.0, both=False):
    ann.append(dict(x=x1, y=y1, ax=x0, ay=y0, xref=xr, yref=yr, axref=xr, ayref=yr,
                    text="", showarrow=True, arrowhead=2, arrowsize=size, arrowwidth=width,
                    arrowcolor=color, standoff=0, startstandoff=0,
                    arrowside="end+start" if both else "end", startarrowhead=2, startarrowsize=size))


# axis titles
txt(0.2019, 0.0255, "Energy (meV)", "paper", "paper", 24, "#222")
txt(0.5394, 0.0255, "Energy (meV)", "paper", "paper", 24, "#222")
txt(0.0168, 0.544, "<i>R<sub>B</sub></i>/<i>R</i><sub>0</sub>", "paper", "paper", 30, "#222", angle=-90)
txt(0.6997, 0.787, "Energy (meV)", "paper", "paper", 22, "#222", angle=-90)
txt(0.855, 0.524, "<i>k<sub>x</sub></i>", "paper", "paper", 25, "#222")
txt(0.7009, 0.2954, "Energy (eV)", "paper", "paper", 22, "#222", angle=-90)

# panel (d) high-symmetry labels
for p, s, d in zip(bd_tick_pos, bd_tick_sym, bd_tick_dir):
    txt(p, 0.0588, s, "x4", "paper", 27, "#222")
    if d:
        txt(p, 0.022, d, "x4", "paper", 21, "#222")

# panel (a) texts
txt(88.6, 1.591, "Experiment", "x", "y", 29, xanchor="right")
txt(88.6, 1.557, "(a)", "x", "y", 27, xanchor="right")
txt(24.6, 1.557, "Phonons", "x", "y", 25, angle=-90)
txt(44.6, 1.504, "Spectra merge", "x", "y", 25, angle=-90)
txt(80.8, 1.465, "16 T", "x", "y", 27, color=hexc(C_BLUE))
txt(81.9, 1.012, "1 T", "x", "y", 27, color=hexc(C_GREEN))
arrow(15.2, 1.5955, 11.2, 1.5842, "x", "y", "#e0288f", 4.0, 0.8)
arrow(69.1, 1.486, 69.1, 1.457, "x", "y", "#ff8c00", 4.5, 0.9)
arrow(21.3, 1.525, 16.8, 1.517, "x", "y", "black", 1.5, 1.3)
arrow(22.1, 1.515, 18.9, 1.499, "x", "y", "black", 1.5, 1.3)

# panel (b) texts
txt(87.3, 1.591, "Theory", "x2", "y2", 29, xanchor="right")
txt(87.3, 1.557, "(b)", "x2", "y2", 27, xanchor="right")
txt(43.8, 1.52, "GdPtBi", "x2", "y2", 39)
txt(78.7, 1.460, "16 T", "x2", "y2", 27, color=hexc(C_BLUE))
txt(80.2, 1.012, "1 T", "x2", "y2", 27, color=hexc(C_GREEN))
arrow(17.9, 1.588, 14.6, 1.574, "x2", "y2", "#e0288f", 4.0, 0.8)
arrow(67.4, 1.480, 67.4, 1.451, "x2", "y2", "#ff8c00", 4.5, 0.9)

# panel (c)
txt(0.0, -168, "B=10T", "x3", "y3", 25)
txt(0.866, -221, "(c)", "x3", "y3", 27)
for i, (k, e0, e1) in enumerate(zip(pink_k, pink_from, pink_to)):
    arrow(k, e0, k, e1, "x3", "y3", "#e0288f", 2.0, 0.9, both=(i == 0))
for k, e0, e1 in zip(orange_k, orange_from, orange_to):
    arrow(k, e0, k, e1, "x3", "y3", "#ff9a10", 2.2, 1.0)

# panel (d)
txt(0.93, -0.95, "(d)", "x4", "y4", 27)

fig.update_layout(annotations=ann)
fig.write_html("out.html", config={"displayModeBar": False},
               post_script="document.body.style.margin='0px';document.body.style.overflow='hidden';")
